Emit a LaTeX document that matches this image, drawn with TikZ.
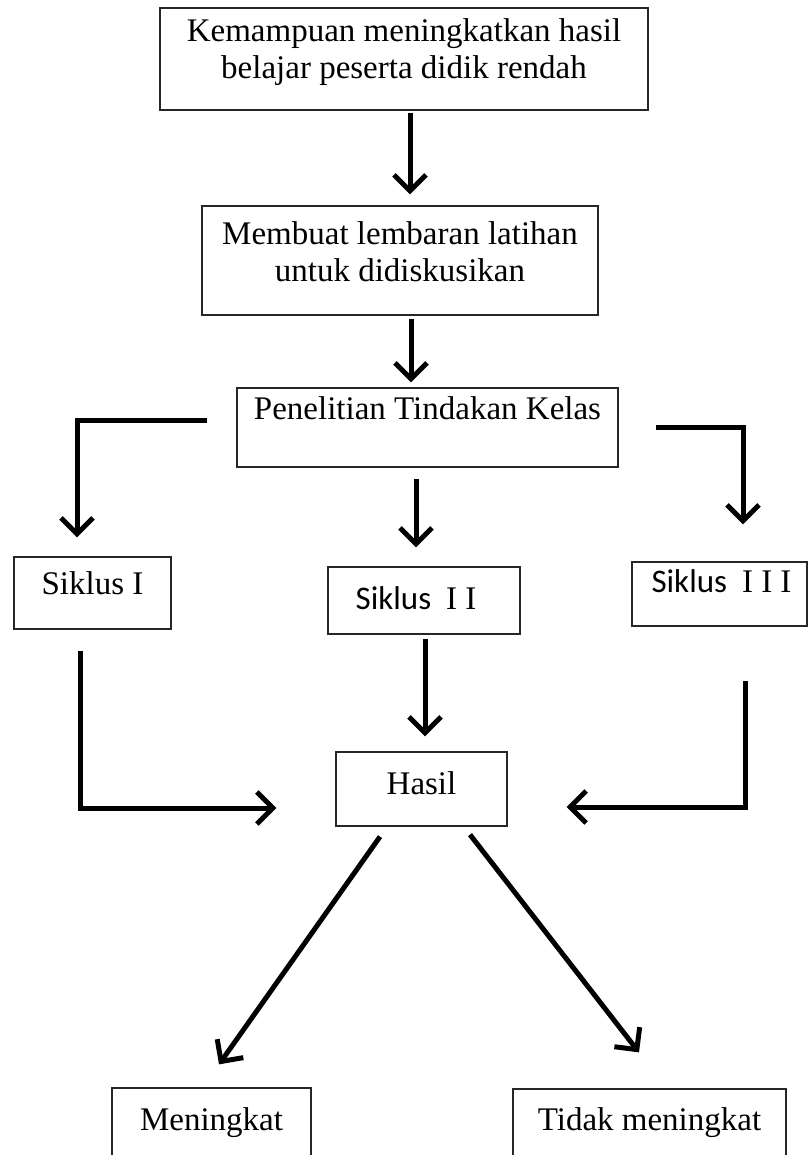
\documentclass[tikz,border=0pt]{standalone}
\usepackage{fontspec}
\setmainfont{Liberation Serif}
\newfontfamily\carlito{Carlito}
\usetikzlibrary{arrows.meta,positioning}
\tikzset{every picture/.style={line width=1.2pt}}
\tikzset{
  box/.style={draw=black!85, line width=1.3pt, rectangle, inner sep=0pt},
  boxtext/.style={inner sep=0pt, align=center, font=\fontsize{33}{37}\selectfont},
  arrow/.style={line width=5pt, -{Straight Barb[length=16pt,width=32pt]}}
}

\begin{document}
\begin{tikzpicture}[x=1pt,y=-1pt]
\useasboundingbox (0,0) rectangle (809,1155);

%Shape: Rectangle
\node[box, minimum width=488pt, minimum height=102pt] (kemampuan) at (404,59) {};
\node[boxtext, below=11pt of kemampuan.north] (kemampuan-t) {Kemampuan meningkatkan hasil\\belajar peserta didik rendah};
%Shape: Rectangle
\node[box, minimum width=396pt, minimum height=109pt] (lembaran) at (400,260.5) {};
\node[boxtext, below=16pt of lembaran.north] (lembaran-t) {Membuat lembaran latihan\\untuk didiskusikan};
%Shape: Rectangle
\node[box, minimum width=381pt, minimum height=79pt] (ptk) at (427.5,427.5) {};
\node[boxtext, below=9pt of ptk.north] (ptk-t) {Penelitian Tindakan Kelas};
%Shape: Rectangle
\node[box, minimum width=157pt, minimum height=72pt] (siklusa) at (92.5,593) {};
\node[boxtext, below=15pt of siklusa.north] (siklusa-t) {Siklus I};
%Shape: Rectangle
\node[box, minimum width=192pt, minimum height=67pt] (siklusb) at (424,600.5) {};
\node[boxtext, below=20pt of siklusb.north, xshift=-8pt] (siklusb-t) {{\carlito Siklus\ \ }I I};
%Shape: Rectangle
\node[box, minimum width=175pt, minimum height=64pt] (siklusc) at (719.5,594) {};
\node[boxtext, below=8pt of siklusc.north, xshift=2pt] (siklusc-t) {{\carlito Siklus\ \ }I I I};
%Shape: Rectangle
\node[box, minimum width=171pt, minimum height=74pt] (hasil) at (421.5,789) {};
\node[boxtext, below=20pt of hasil.north] (hasil-t) {Hasil};
%Shape: Rectangle
\node[box, minimum width=199pt, minimum height=100pt] (meningkat) at (211.5,1138) {};
\node[boxtext, below=20pt of meningkat.north] (meningkat-t) {Meningkat};
%Shape: Rectangle
\node[box, minimum width=273pt, minimum height=100pt] (tidak) at (649.5,1139) {};
\node[boxtext, below=19pt of tidak.north] (tidak-t) {Tidak meningkat};

%Straight Lines
\draw[arrow] ([xshift=6pt,yshift=-2pt]kemampuan.south) -- ([xshift=10pt,yshift=11pt]lembaran.north);
\draw[arrow] ([xshift=11pt,yshift=-3pt]lembaran.south) -- ([xshift=-16.5pt,yshift=5pt]ptk.north);
%Elbow Lines
\draw[arrow] ([xshift=-29pt,yshift=7.5pt]ptk.west) -| ([xshift=-15.5pt,yshift=19pt]siklusa.north);
\draw[arrow] ([xshift=37pt]ptk.east) -| ([xshift=23.5pt,yshift=37pt]siklusc.north);
\draw[arrow] ([xshift=-11.5pt,yshift=-11pt]ptk.south) -- ([xshift=-8pt,yshift=19pt]siklusb.north);
\draw[arrow] ([xshift=1pt,yshift=-4pt]siklusb.south) -- ([xshift=3.5pt,yshift=15pt]hasil.north);
\draw[arrow] ([xshift=-12.5pt,yshift=-21pt]siklusa.south) |- ([xshift=-59pt,yshift=-19pt]hasil.west);
\draw[arrow] ([xshift=25.5pt,yshift=-54pt]siklusc.south) |- ([xshift=59pt,yshift=-18pt]hasil.east);
%Diagonal Lines
\draw[arrow] ([xshift=-41.5pt,yshift=-10pt]hasil.south) -- ([xshift=7.5pt,yshift=23pt]meningkat.north);
\draw[arrow] ([xshift=48.5pt,yshift=-8pt]hasil.south) -- ([xshift=-10.5pt,yshift=36pt]tidak.north);

\end{tikzpicture}
\end{document}
